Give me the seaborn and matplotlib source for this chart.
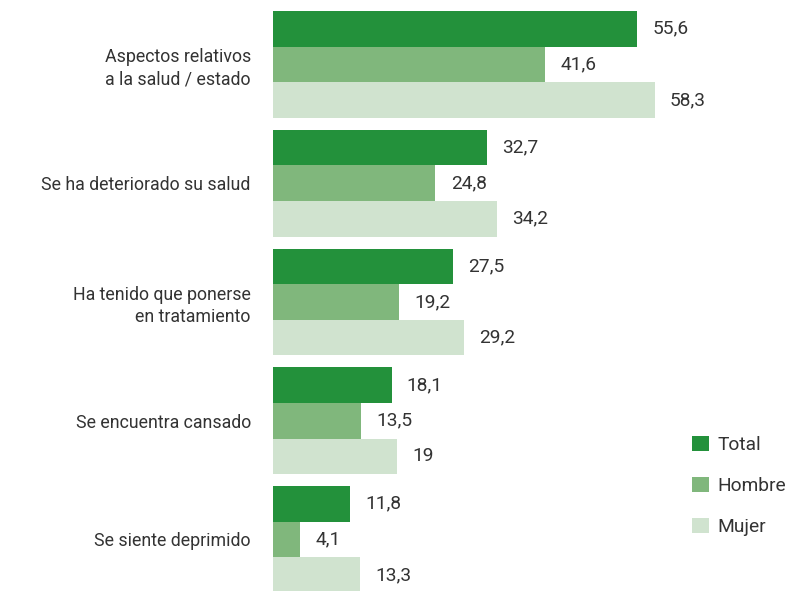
import matplotlib
matplotlib.use('Agg')
import matplotlib.pyplot as plt
from matplotlib.patches import Patch
import pandas as pd
import seaborn as sns

# Data
categories = [
    'Aspectos relativos\na la salud / estado',
    'Se ha deteriorado su salud',
    'Ha tenido que ponerse\nen tratamiento',
    'Se encuentra cansado',
    'Se siente deprimido',
]
series = ['Total', 'Hombre', 'Mujer']
total = [55.6, 32.7, 27.5, 18.1, 11.8]
hombre = [41.6, 24.8, 19.2, 13.5, 4.1]
mujer = [58.3, 34.2, 29.2, 19.0, 13.3]
colors = ['#23913b', '#80b77c', '#d0e3cf']

# Build long-form table
rows = []
for name, vals in zip(series, [total, hombre, mujer]):
    for cat, v in zip(categories, vals):
        rows.append({'categoria': cat, 'serie': name, 'valor': v})
df = pd.DataFrame(rows)

sns.set_style('white')
plt.rcParams['font.family'] = ['Roboto', 'DejaVu Sans']
fs_cat = 12.8
fs_val = 13.8

fig = plt.figure(figsize=(7.9, 5.91), dpi=100)
ax = fig.add_axes([273 / 790, 0, 6.547 * 65 / 790, 1])

sns.barplot(
    data=df, x='valor', y='categoria', hue='serie',
    hue_order=series, palette=colors, orient='h',
    width=0.9, saturation=1, linewidth=0, ax=ax, legend=False)

for container in ax.containers:
    labels = ['{:g}'.format(b.get_width()).replace('.', ',') for b in container]
    ax.bar_label(container, labels=labels, padding=11,
                 fontsize=fs_val, color='#333333')

ax.set_xlim(0, 65)
ax.set_ylim(4.434, -0.543)
ax.set_xlabel('')
ax.set_ylabel('')
ax.set_xticks([])
sns.despine(ax=ax, left=True, bottom=True)
ax.tick_params(axis='y', length=0, pad=16, labelsize=fs_cat, labelcolor='#333333')
for lbl in ax.get_yticklabels():
    lbl.set_horizontalalignment('right')
    lbl.set_multialignment('right')
    lbl.set_linespacing(1.3)

handles = [Patch(facecolor=c, edgecolor='none') for c in colors]
fig.legend(handles, series, loc='center left',
           bbox_to_anchor=(675 / 790, 1 - 486 / 591),
           frameon=False, fontsize=fs_val, handlelength=0.85, handleheight=0.85,
           handletextpad=0.45, labelspacing=1.2, labelcolor='#333333')

fig.savefig('out.png', dpi=100)
plt.close(fig)
